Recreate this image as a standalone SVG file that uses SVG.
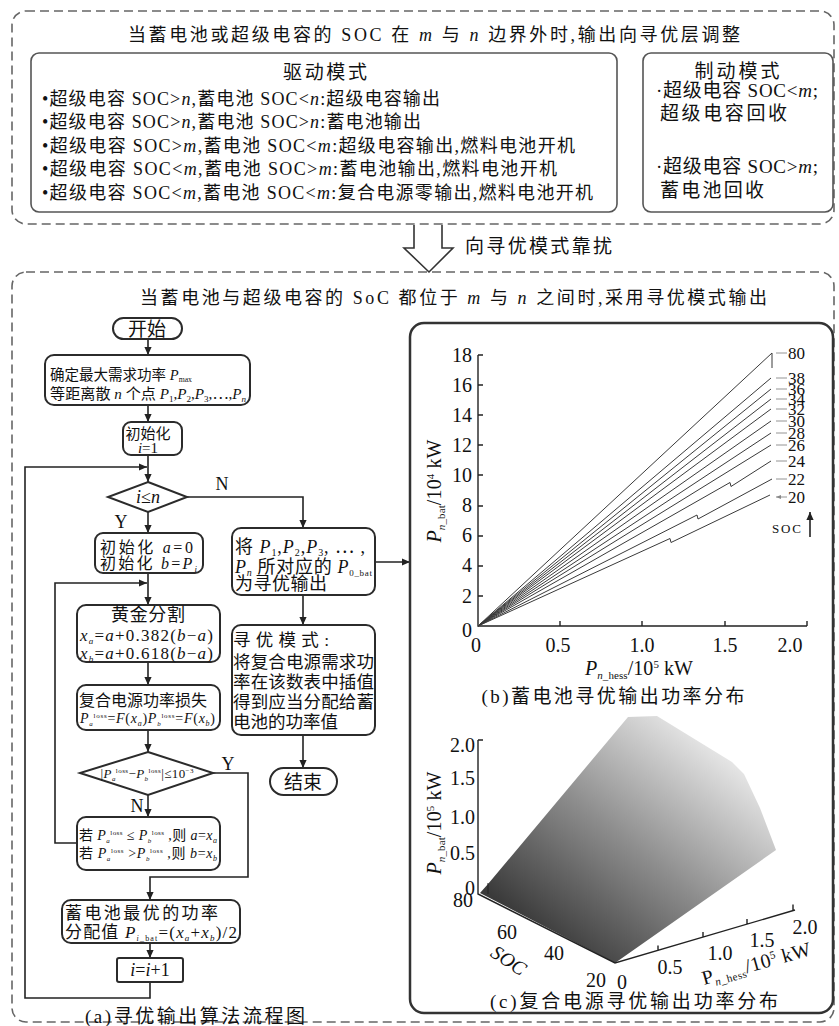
<svg xmlns="http://www.w3.org/2000/svg" width="839" height="1026" viewBox="0 0 839 1026">
<style>
.t{font-family:'Liberation Serif','Noto Sans CJK SC',serif;fill:#111}
.i{font-style:italic}
.box{fill:#fff;stroke:#2b2b2b;stroke-width:2}
.mbox{fill:#fff;stroke:#555;stroke-width:1.6}
.ln{fill:none;stroke:#222;stroke-width:1.6}
.dash{fill:none;stroke:#666;stroke-width:1.6;stroke-dasharray:9 5}
.cl{fill:none;stroke:#3a3a3a;stroke-width:1}
.ax{fill:none;stroke:#222;stroke-width:1.4}
.lbl{fill:none;stroke:#888;stroke-width:0.9}
</style>
<defs>
<marker id="ah" viewBox="0 0 10 10" refX="10" refY="5" markerWidth="8" markerHeight="8" markerUnits="userSpaceOnUse" orient="auto"><path d="M0,0.5 L10,5 L0,9.5 z" fill="#222"/></marker>
<marker id="sa" viewBox="0 0 10 10" refX="10" refY="5" markerWidth="5" markerHeight="5" markerUnits="userSpaceOnUse" orient="auto"><path d="M0,1 L10,5 L0,9 z" fill="#888"/></marker>
<linearGradient id="surf" gradientUnits="userSpaceOnUse" x1="540" y1="935" x2="700" y2="735">
<stop offset="0" stop-color="#3a3a3a"/><stop offset="0.5" stop-color="#8e8e8e"/><stop offset="1" stop-color="#e6e6e6"/>
</linearGradient>
</defs>
<rect width="839" height="1026" fill="#fff"/>

<g id="top-frame">
<rect class="dash" x="12" y="11" width="822" height="213" rx="14"/>
<text class="t" x="128" y="41" font-size="18" textLength="612">当蓄电池或超级电容的 SOC 在 <tspan class="i">m</tspan> 与 <tspan class="i">n</tspan> 边界外时,输出向寻优层调整</text>
</g>

<g id="drive-mode">
<rect class="mbox" x="31" y="53" width="586" height="159" rx="8"/>
<text class="t" x="325" y="79" font-size="19" text-anchor="middle" textLength="84">驱动模式</text>
<text class="t" x="42" y="105" font-size="18" textLength="398">•超级电容 SOC&gt;<tspan class="i">n</tspan>,蓄电池 SOC&lt;<tspan class="i">n</tspan>:超级电容输出</text>
<text class="t" x="42" y="128" font-size="18" textLength="379">•超级电容 SOC&gt;<tspan class="i">n</tspan>,蓄电池 SOC&gt;<tspan class="i">n</tspan>:蓄电池输出</text>
<text class="t" x="42" y="152" font-size="18" textLength="533">•超级电容 SOC&gt;<tspan class="i">m</tspan>,蓄电池 SOC&lt;<tspan class="i">m</tspan>:超级电容输出,燃料电池开机</text>
<text class="t" x="42" y="175" font-size="18" textLength="515">•超级电容 SOC&lt;<tspan class="i">m</tspan>,蓄电池 SOC&gt;<tspan class="i">m</tspan>:蓄电池输出,燃料电池开机</text>
<text class="t" x="42" y="199" font-size="18" textLength="551">•超级电容 SOC&lt;<tspan class="i">m</tspan>,蓄电池 SOC&lt;<tspan class="i">m</tspan>:复合电源零输出,燃料电池开机</text>
</g>

<g id="brake-mode">
<rect class="mbox" x="643" y="53" width="190" height="159" rx="8"/>
<text class="t" x="737" y="78" font-size="19" text-anchor="middle" textLength="85">制动模式</text>
<text class="t" x="656" y="97" font-size="19" textLength="162">·超级电容 SOC&lt;<tspan class="i">m</tspan>;</text>
<text class="t" x="660" y="120" font-size="19" textLength="127">超级电容回收</text>
<text class="t" x="656" y="173" font-size="19" textLength="162">·超级电容 SOC&gt;<tspan class="i">m</tspan>;</text>
<text class="t" x="660" y="197" font-size="19" textLength="104">蓄电池回收</text>
</g>

<g id="transition">
<path d="M414,225 L414,248 L404,248 L429,272 L453,248 L442,248 L442,225" fill="#fff" stroke="#333" stroke-width="1.6"/>
<text class="t" x="465" y="253" font-size="19" textLength="147">向寻优模式靠扰</text>
</g>

<g id="bottom-frame">
<rect class="dash" x="12" y="272" width="822" height="750" rx="14"/>
<text class="t" x="140" y="304" font-size="18" textLength="627">当蓄电池与超级电容的 SoC 都位于 <tspan class="i">m</tspan> 与 <tspan class="i">n</tspan> 之间时,采用寻优模式输出</text>
</g>

<g id="connectors">
<path class="ln" d="M148,339 L148,355" marker-end="url(#ah)"/>
<path class="ln" d="M148,405 L148,422" marker-end="url(#ah)"/>
<path class="ln" d="M148,455 L148,482" marker-end="url(#ah)"/>
<path class="ln" d="M150,982 L150,998 L25,998 L25,467 L147,467" marker-end="url(#ah)"/>
<path class="ln" d="M187,497 L303,497 L303,528" marker-end="url(#ah)"/>
<path class="ln" d="M148,512 L148,533" marker-end="url(#ah)"/>
<path class="ln" d="M148,573 L148,605" marker-end="url(#ah)"/>
<path class="ln" d="M77,843 L55,843 L55,583 L147,583" marker-end="url(#ah)"/>
<path class="ln" d="M148,662 L148,685" marker-end="url(#ah)"/>
<path class="ln" d="M148,730 L148,752" marker-end="url(#ah)"/>
<path class="ln" d="M148,795 L148,817" marker-end="url(#ah)"/>
<path class="ln" d="M213,773 L248,773 L248,877 L150,877 L150,900" marker-end="url(#ah)"/>
<path class="ln" d="M150,943 L150,958" marker-end="url(#ah)"/>
<path class="ln" d="M375,562 L410,562" marker-end="url(#ah)"/>
<path class="ln" d="M303,595 L303,625" marker-end="url(#ah)"/>
<path class="ln" d="M303,735 L303,768" marker-end="url(#ah)"/>
<text class="t" x="222" y="490" font-size="18" text-anchor="middle">N</text>
<text class="t" x="121" y="528" font-size="18" text-anchor="middle">Y</text>
<text class="t" x="228" y="770" font-size="18" text-anchor="middle">Y</text>
<text class="t" x="137" y="812" font-size="18" text-anchor="middle">N</text>
</g>

<g id="n-start">
<rect class="box" x="113" y="318" width="69" height="21" rx="10.5"/>
<text class="t" x="147" y="336" font-size="19" text-anchor="middle">开始</text>
</g>

<g id="n-define">
<rect class="box" x="45" y="355" width="205" height="50" rx="9"/>
<text class="t" x="50" y="380" font-size="15" textLength="142" lengthAdjust="spacingAndGlyphs">确定最大需求功率 <tspan class="i">P</tspan><tspan font-size="8" dy="2">max</tspan></text>
<text class="t" x="50" y="399" font-size="15" textLength="196" lengthAdjust="spacingAndGlyphs">等距离散 <tspan class="i">n</tspan> 个点 <tspan class="i">P</tspan><tspan font-size="9" dy="3">1</tspan><tspan dy="-3">,</tspan><tspan class="i">P</tspan><tspan font-size="9" dy="3">2</tspan><tspan dy="-3">,</tspan><tspan class="i">P</tspan><tspan font-size="9" dy="3">3</tspan><tspan dy="-3">,⋯,</tspan><tspan class="i">P</tspan><tspan font-size="9" dy="3" class="i">n</tspan></text>
</g>

<g id="n-init-i">
<rect class="box" x="123" y="422" width="59" height="33" rx="8"/>
<text class="t" x="148" y="439" font-size="15" text-anchor="middle">初始化</text>
<text class="t" x="148" y="453" font-size="15" text-anchor="middle"><tspan class="i">i</tspan>=1</text>
</g>

<g id="n-cond-i">
<polygon class="box" points="148,482 187,497 148,512 108,497"/>
<text class="t" x="148" y="503" font-size="18" text-anchor="middle"><tspan class="i">i</tspan>≤<tspan class="i">n</tspan></text>
</g>

<g id="n-init-ab">
<rect class="box" x="95" y="533" width="108" height="40" rx="8"/>
<text class="t" x="100" y="553" font-size="16" textLength="93">初始化 <tspan class="i">a</tspan>=0</text>
<text class="t" x="100" y="569" font-size="16" textLength="97">初始化 <tspan class="i">b</tspan>=<tspan class="i">P</tspan><tspan font-size="9" dy="3" class="i">i</tspan></text>
</g>

<g id="n-golden">
<rect class="box" x="77" y="605" width="143" height="57" rx="9"/>
<text class="t" x="148" y="621" font-size="18" text-anchor="middle" textLength="74">黄金分割</text>
<text class="t" x="80" y="641" font-size="17" textLength="133"><tspan class="i">x</tspan><tspan font-size="9" dy="3" class="i">a</tspan><tspan dy="-3">=</tspan><tspan class="i">a</tspan>+0.382(<tspan class="i">b</tspan>−<tspan class="i">a</tspan>)</text>
<text class="t" x="80" y="659" font-size="17" textLength="133"><tspan class="i">x</tspan><tspan font-size="9" dy="3" class="i">b</tspan><tspan dy="-3">=</tspan><tspan class="i">a</tspan>+0.618(<tspan class="i">b</tspan>−<tspan class="i">a</tspan>)</text>
</g>

<g id="n-loss">
<rect class="box" x="77" y="685" width="143" height="45" rx="9"/>
<text class="t" x="79" y="706" font-size="16" textLength="128">复合电源功率损失</text>
<text class="t" x="80" y="723" font-size="14" textLength="135"><tspan class="i">P</tspan><tspan font-size="7" dy="3" class="i">a</tspan><tspan font-size="7" dy="-8">loss</tspan><tspan dy="5">=</tspan><tspan class="i">F</tspan>(<tspan class="i">x</tspan><tspan font-size="8" dy="3" class="i">a</tspan><tspan dy="-3">)</tspan><tspan class="i">P</tspan><tspan font-size="7" dy="3" class="i">b</tspan><tspan font-size="7" dy="-8">loss</tspan><tspan dy="5">=</tspan><tspan class="i">F</tspan>(<tspan class="i">x</tspan><tspan font-size="8" dy="3" class="i">b</tspan><tspan dy="-3">)</tspan></text>
</g>

<g id="n-cond-conv">
<polygon class="box" points="148,752 213,773 148,795 80,773"/>
<text class="t" x="147" y="778" font-size="13" text-anchor="middle" textLength="93">|<tspan class="i">P</tspan><tspan font-size="7" dy="3" class="i">a</tspan><tspan font-size="7" dy="-8">loss</tspan><tspan dy="5">−</tspan><tspan class="i">P</tspan><tspan font-size="7" dy="3" class="i">b</tspan><tspan font-size="7" dy="-8">loss</tspan><tspan dy="5">|≤10</tspan><tspan font-size="7" dy="-5">−3</tspan></text>
</g>

<g id="n-update">
<rect class="box" x="77" y="817" width="143" height="53" rx="9"/>
<text class="t" x="79" y="840" font-size="14" textLength="138">若 <tspan class="i">P</tspan><tspan font-size="7" dy="3" class="i">a</tspan><tspan font-size="7" dy="-8">loss</tspan><tspan dy="5"> ≤ </tspan><tspan class="i">P</tspan><tspan font-size="7" dy="3" class="i">b</tspan><tspan font-size="7" dy="-8">loss</tspan><tspan dy="5"> ,则 </tspan><tspan class="i">a</tspan>=<tspan class="i">x</tspan><tspan font-size="8" dy="3" class="i">a</tspan></text>
<text class="t" x="79" y="858" font-size="14" textLength="138">若 <tspan class="i">P</tspan><tspan font-size="7" dy="3" class="i">a</tspan><tspan font-size="7" dy="-8">loss</tspan><tspan dy="5"> &gt;</tspan><tspan class="i">P</tspan><tspan font-size="7" dy="3" class="i">b</tspan><tspan font-size="7" dy="-8">loss</tspan><tspan dy="5"> ,则 </tspan><tspan class="i">b</tspan>=<tspan class="i">x</tspan><tspan font-size="8" dy="3" class="i">b</tspan></text>
</g>

<g id="n-battery">
<rect class="box" x="62" y="900" width="178" height="43" rx="9"/>
<text class="t" x="65" y="919" font-size="17" textLength="153">蓄电池最优的功率</text>
<text class="t" x="65" y="938" font-size="17" textLength="172">分配值 <tspan class="i">P</tspan><tspan font-size="8" dy="3"><tspan class="i">i</tspan>_bat</tspan><tspan dy="-3">=(</tspan><tspan class="i">x</tspan><tspan font-size="9" dy="3" class="i">a</tspan><tspan dy="-3">+</tspan><tspan class="i">x</tspan><tspan font-size="9" dy="3" class="i">b</tspan><tspan dy="-3">)/2</tspan></text>
</g>

<g id="n-incr">
<rect class="box" x="117" y="958" width="66" height="24" rx="2"/>
<text class="t" x="150" y="976" font-size="18" text-anchor="middle"><tspan class="i">i</tspan>=<tspan class="i">i</tspan>+1</text>
</g>

<text class="t" x="195" y="1023" font-size="19" text-anchor="middle" textLength="220">(a)寻优输出算法流程图</text>

<g id="n-output">
<rect class="box" x="232" y="528" width="143" height="67" rx="9"/>
<text class="t" x="235" y="553" font-size="18" textLength="130">将 <tspan class="i">P</tspan><tspan font-size="10" dy="3">1</tspan><tspan dy="-3">,</tspan><tspan class="i">P</tspan><tspan font-size="10" dy="3">2</tspan><tspan dy="-3">,</tspan><tspan class="i">P</tspan><tspan font-size="10" dy="3">3</tspan><tspan dy="-3">, ⋯ ,</tspan></text>
<text class="t" x="235" y="573" font-size="18" textLength="137"><tspan class="i">P</tspan><tspan font-size="10" dy="3" class="i">n</tspan><tspan dy="-3"> 所对应的 </tspan><tspan class="i">P</tspan><tspan font-size="9" dy="3">0_bat</tspan></text>
<text class="t" x="235" y="590" font-size="18" textLength="92">为寻优输出</text>
</g>

<g id="n-mode">
<rect class="box" x="232" y="625" width="143" height="110" rx="9"/>
<text class="t" x="233" y="646" font-size="17.5" textLength="96">寻优模式:</text>
<text class="t" x="233" y="668" font-size="17.5" textLength="141">将复合电源需求功</text>
<text class="t" x="233" y="688" font-size="17.5" textLength="141">率在该数表中插值</text>
<text class="t" x="233" y="708" font-size="17.5" textLength="141">得到应当分配给蓄</text>
<text class="t" x="233" y="728" font-size="17.5" textLength="105">电池的功率值</text>
</g>

<g id="n-end">
<rect class="box" x="270" y="768" width="67" height="27" rx="13.5"/>
<text class="t" x="303" y="789" font-size="19" text-anchor="middle">结束</text>
</g>

<g id="charts">
<rect x="410" y="323" width="423" height="690" rx="14" fill="#fff" stroke="#333" stroke-width="2.5"/>

<g id="chart-b">
<path class="ax" d="M478,355 L478,626 L807,626"/>
<path class="ax" d="M478,355 h5 M478,385 h5 M478,415 h5 M478,445 h5 M478,475 h5 M478,506 h5 M478,536 h5 M478,566 h5 M478,596 h5 M560,626 v-5 M642,626 v-5 M725,626 v-5 M807,626 v-5"/>
<g class="t" font-size="20" text-anchor="end">
<text x="472" y="362">18</text><text x="472" y="392">16</text><text x="472" y="422">14</text><text x="472" y="452">12</text><text x="472" y="482">10</text><text x="472" y="512">8</text><text x="472" y="542">6</text><text x="472" y="572">4</text><text x="472" y="603">2</text><text x="472" y="637">0</text>
</g>
<g class="t" font-size="20" text-anchor="middle">
<text x="476" y="652">0</text><text x="558" y="652">0.5</text><text x="642" y="652">1.0</text><text x="725" y="652">1.5</text><text x="790" y="652">2.0</text>
</g>
<text class="t" transform="translate(441,491) rotate(-90)" font-size="20" text-anchor="middle" textLength="103"><tspan class="i">P</tspan><tspan font-size="11" dy="4"><tspan class="i">n</tspan>_bat</tspan><tspan dy="-4">/10</tspan><tspan font-size="11" dy="-7">4</tspan><tspan dy="7"> kW</tspan></text>
<text class="t" x="639" y="675" font-size="20" text-anchor="middle" textLength="108"><tspan class="i">P</tspan><tspan font-size="11" dy="4"><tspan class="i">n</tspan>_hess</tspan><tspan dy="-4">/10</tspan><tspan font-size="11" dy="-7">5</tspan><tspan dy="7"> kW</tspan></text>
<text class="t" x="613" y="703" font-size="19" text-anchor="middle" textLength="263">(b)蓄电池寻优输出功率分布</text>
<g>
<path class="cl" d="M478,626 L772,353 L772,368"/>
<path class="cl" d="M478,626 L771,378"/>
<path class="cl" d="M478,626 L771,389"/>
<path class="cl" d="M478,626 L771,399"/>
<path class="cl" d="M478,626 L771,409"/>
<path class="cl" d="M478,626 L771,421"/>
<path class="cl" d="M478,626 L771,433"/>
<path class="cl" d="M478,626 L771,445"/>
<path class="cl" d="M478,626 L730,482.5 L731,486.5 L771,461"/>
<path class="cl" d="M478,626 L697,515 L698,519 L772,479"/>
<path class="cl" d="M478,626 L670,538.5 L671,542.5 L770,495"/>
</g>
<g>
<path class="lbl" d="M787,353 H776 M787,378 H776 M787,389 H776 M787,399 H776 M787,409 H776 M787,421 H776 M787,433 H776 M787,445 H776 M787,461 H776 M787,479 H776 M787,497 H776" marker-end="url(#sa)"/>
</g>
<g class="t" font-size="17">
<text x="788" y="359">80</text><text x="788" y="384">38</text><text x="788" y="395">36</text><text x="788" y="405">34</text><text x="788" y="415">32</text><text x="788" y="427">30</text><text x="788" y="439">28</text><text x="788" y="451">26</text><text x="788" y="467">24</text><text x="788" y="485">22</text><text x="788" y="503">20</text>
</g>
<text class="t" x="772" y="533" font-size="13" textLength="29">SOC</text>
<path class="ln" d="M810,537 L810,512" marker-end="url(#ah)"/>
</g>

<g id="chart-c">
<polygon points="480,893 488,884 628,717 657,716 732,762 744,774 760,808 776,850 615,963" fill="url(#surf)"/>
<path class="ax" d="M478,740 L478,894 L615,963 L795,910 M478,740 h5 M658,950.5 v-5 M703,937 v-5 M747,924 v-5 M793,910.5 v-6"/>
<path d="M488,883 L488,894" stroke="#222" stroke-width="1"/>
<g class="t" font-size="20" text-anchor="end">
<text x="475" y="752">2.0</text><text x="475" y="785">1.5</text><text x="475" y="824">1.0</text><text x="475" y="860">0.5</text><text x="475" y="895">0</text>
</g>
<g class="t" font-size="20" text-anchor="middle">
<text x="463" y="907">80</text><text x="507" y="939">60</text><text x="554" y="960">40</text><text x="596" y="987">20</text>
<text x="622" y="989">0</text><text x="670" y="974">0.5</text><text x="720" y="960">1.0</text><text x="762" y="947">1.5</text><text x="805" y="934">2.0</text>
</g>
<text class="t i" transform="translate(505,966) rotate(34)" font-size="20" text-anchor="middle">SOC</text>
<text class="t" transform="translate(758,970) rotate(-15.5)" font-size="20" text-anchor="middle" textLength="112">P<tspan font-size="11" dy="4"><tspan class="i">n</tspan>_hess</tspan><tspan dy="-4">/10</tspan><tspan font-size="11" dy="-7">5</tspan><tspan dy="7"> kW</tspan></text>
<text class="t" transform="translate(441,823) rotate(-90)" font-size="20" text-anchor="middle" textLength="103"><tspan class="i">P</tspan><tspan font-size="11" dy="4"><tspan class="i">n</tspan>_bat</tspan><tspan dy="-4">/10</tspan><tspan font-size="11" dy="-7">5</tspan><tspan dy="7"> kW</tspan></text>
<text class="t" x="634" y="1008" font-size="19" text-anchor="middle" textLength="288">(c)复合电源寻优输出功率分布</text>
</g>
</g>
</svg>
